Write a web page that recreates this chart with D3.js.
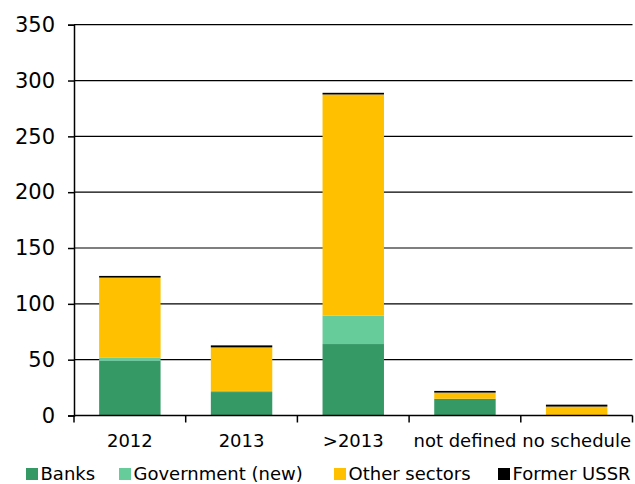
<!DOCTYPE html>
<html>
<head>
  <meta charset="utf-8">
  <script src="https://cdn.jsdelivr.net/npm/d3@7"></script>
  <style>
    body { margin: 0; background: #fff; }
    text { font-family: "DejaVu Sans", Verdana, sans-serif; fill: #000; }
  </style>
</head>
<body>
  <svg id="chart" width="635" height="484"></svg>
  <script>
    // categories and series
    const categories = ['2012', '2013', '>2013', 'not defined', 'no schedule'];
    const seriesNames = ['Banks', 'Government (new)', 'Other sectors', 'Former USSR'];
    const banks = [49, 21, 64, 15, 0];
    const government = [3, 1, 25.5, 0, 0];
    const otherSectors = [71.5, 39, 198, 5.5, 8];
    const formerUSSR = [1.5, 1.8, 1.5, 1.5, 1.7];
    const yTicks = [0, 50, 100, 150, 200, 250, 300, 350];
    const colors = ['#359966', '#66cc99', '#ffc000', '#000000'];

    const rows = categories.map((c, i) => ({
      cat: c,
      'Banks': banks[i],
      'Government (new)': government[i],
      'Other sectors': otherSectors[i],
      'Former USSR': formerUSSR[i]
    }));

    const svg = d3.select('#chart');
    const mLeft = 74, mRight = 632.5, mTop = 24.7, mBottom = 415.5;

    const x = d3.scaleBand().domain(categories).range([mLeft, mRight])
      .paddingInner(0.45).paddingOuter(0.225);
    const y = d3.scaleLinear().domain([0, 350]).range([mBottom, mTop]);
    const color = d3.scaleOrdinal().domain(seriesNames).range(colors);

    // gridlines
    svg.append('g').selectAll('line').data(yTicks.filter(d => d > 0)).join('line')
      .attr('x1', mLeft).attr('x2', mRight)
      .attr('y1', d => y(d)).attr('y2', d => y(d))
      .attr('stroke', '#000').attr('stroke-width', 1.2);

    // bars
    const stacked = d3.stack().keys(seriesNames)(rows);
    svg.append('g').selectAll('g').data(stacked).join('g')
      .attr('fill', d => color(d.key))
      .selectAll('rect').data(d => d).join('rect')
      .attr('x', d => x(d.data.cat))
      .attr('width', x.bandwidth())
      .attr('y', d => y(d[1]))
      .attr('height', d => y(d[0]) - y(d[1]));

    // y axis
    const yAxis = svg.append('g').attr('transform', `translate(${mLeft},0)`)
      .call(d3.axisLeft(y).tickValues(yTicks).tickSize(6).tickPadding(13));
    yAxis.select('.domain').attr('stroke-width', 1.5);
    yAxis.selectAll('.tick line').attr('stroke-width', 1.5);
    yAxis.selectAll('text').style('font-size', '21px').attr('fill', '#000')
      .style('font-family', '"DejaVu Sans", Verdana, sans-serif');

    // x axis with ticks at category boundaries
    const xAxis = svg.append('g').attr('transform', `translate(0,${mBottom})`);
    xAxis.append('line').attr('x1', mLeft).attr('x2', mRight)
      .attr('stroke', '#000').attr('stroke-width', 1.5);
    const bounds = d3.range(categories.length + 1).map(i => mLeft + i * (mRight - mLeft) / categories.length);
    xAxis.selectAll('.bt').data(bounds).join('line').attr('class', 'bt')
      .attr('x1', d => d).attr('x2', d => d).attr('y1', 0).attr('y2', 7)
      .attr('stroke', '#000').attr('stroke-width', 1.5);
    xAxis.selectAll('.lbl').data(categories).join('text').attr('class', 'lbl')
      .attr('x', d => x(d) + x.bandwidth() / 2)
      .attr('y', 31)
      .attr('text-anchor', 'middle')
      .style('font-size', '18px')
      .text(d => d);

    // legend
    const legendX = [26, 119, 334, 498];
    const legend = svg.append('g').selectAll('g').data(seriesNames).join('g')
      .attr('transform', (d, i) => `translate(${legendX[i]},468)`);
    legend.append('rect').attr('width', 12).attr('height', 12).attr('fill', d => color(d));
    legend.append('text').attr('x', 14.5).attr('y', 11.5)
      .style('font-size', '18px').text(d => d);
  </script>
</body>
</html>
